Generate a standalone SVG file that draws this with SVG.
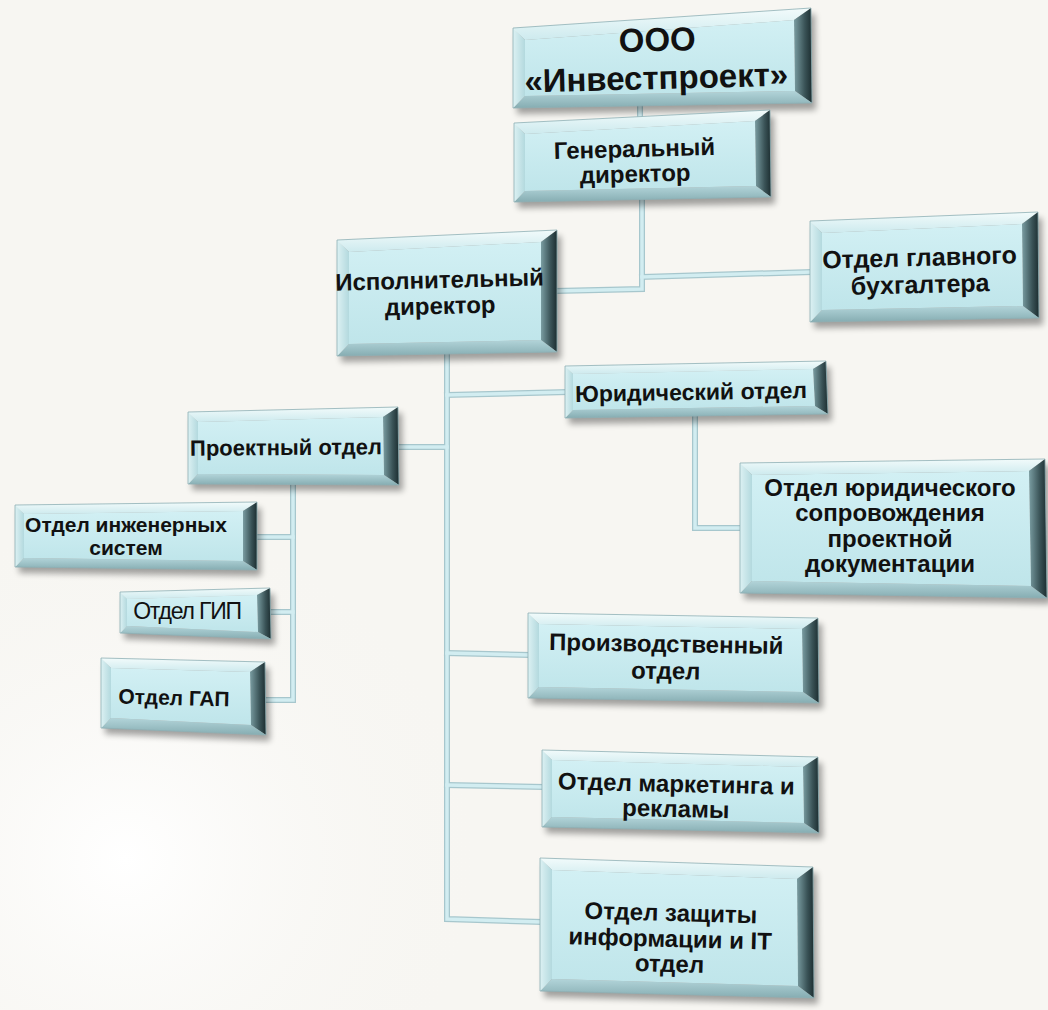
<svg xmlns="http://www.w3.org/2000/svg" width="1048" height="1010" viewBox="0 0 1048 1010">
<defs>
<linearGradient id="gTop" x1="0" y1="0" x2="0" y2="1"><stop offset="0" stop-color="#f2fbfb"/><stop offset="1" stop-color="#cdeaee"/></linearGradient>
<linearGradient id="gLeft" x1="0" y1="0" x2="1" y2="0"><stop offset="0" stop-color="#dcf1f3"/><stop offset="1" stop-color="#b3d9de"/></linearGradient>
<linearGradient id="gBot" x1="0" y1="0" x2="0" y2="1"><stop offset="0" stop-color="#b2d4d9"/><stop offset="1" stop-color="#86adb2"/></linearGradient>
<linearGradient id="gRight" x1="0" y1="0" x2="1" y2="0"><stop offset="0" stop-color="#7a9da2"/><stop offset="0.6" stop-color="#3a5357"/><stop offset="1" stop-color="#1c2d30"/></linearGradient>
<linearGradient id="gFace" x1="0" y1="0" x2="0" y2="1"><stop offset="0" stop-color="#d2f0f4"/><stop offset="1" stop-color="#bfe5ea"/></linearGradient>
<radialGradient id="gBg" cx="0.12" cy="0.85" r="0.35"><stop offset="0" stop-color="#ffffff"/><stop offset="1" stop-color="#f7f6f2" stop-opacity="0"/></radialGradient>
<filter id="sh" x="-10%" y="-20%" width="130%" height="150%"><feGaussianBlur stdDeviation="3"/></filter>
</defs>
<style>
.top{fill:url(#gTop)}
.lft{fill:url(#gLeft)}
.bot{fill:url(#gBot)}
.rgt{fill:url(#gRight)}
.face{fill:url(#gFace)}
.out{fill:none;stroke:#8eb0b5;stroke-width:0.8}
.shd{fill:#000;opacity:0.35;filter:url(#sh)}
.t{font-family:"Liberation Sans",Arial,sans-serif;font-weight:bold;fill:#111;text-anchor:middle}
.tn{font-family:"Liberation Sans",Arial,sans-serif;font-weight:normal;fill:#111;text-anchor:middle}
.cb{fill:none;stroke:#a7c7cd;stroke-width:6;stroke-linecap:square;stroke-linejoin:miter}
.cf{fill:none;stroke:#d2edf1;stroke-width:3.5;stroke-linecap:square;stroke-linejoin:miter}
</style>
<rect width="1048" height="1010" fill="#f7f6f2"/>
<rect width="1048" height="1010" fill="url(#gBg)"/>

<g id="connectors">
<g class="cb">
<path d="M640 103 V116"/>
<path d="M642 197 V289 L557 291"/>
<path d="M642 277 L810 272"/>
<path d="M447 354 V919 L540 922"/>
<path d="M447 395 L566 392"/>
<path d="M398 447 H447"/>
<path d="M447 653 L528 655"/>
<path d="M447 785 L542 787"/>
<path d="M695 414 V528 H740"/>
<path d="M293 484 V700 H266"/>
<path d="M257 537 H293"/>
<path d="M270 612 H293"/>
</g>
<g class="cf">
<path d="M640 103 V116"/>
<path d="M642 197 V289 L557 291"/>
<path d="M642 277 L810 272"/>
<path d="M447 354 V919 L540 922"/>
<path d="M447 395 L566 392"/>
<path d="M398 447 H447"/>
<path d="M447 653 L528 655"/>
<path d="M447 785 L542 787"/>
<path d="M695 414 V528 H740"/>
<path d="M293 484 V700 H266"/>
<path d="M257 537 H293"/>
<path d="M270 612 H293"/>
</g>
</g>

<g id="n-ooo">
<polygon class="shd" points="517,34 815,14 816,110 517,114"/>
<polygon class="top" points="513,28 811,8 794,20 525,40"/>
<polygon class="rgt" points="811,8 812,103 795,91 794,20"/>
<polygon class="bot" points="812,103 513,108 525,96 795,91"/>
<polygon class="lft" points="513,108 513,28 525,40 525,96"/>
<polygon class="face" points="525,40 794,20 795,91 525,96"/>
<polygon class="out" points="513,28 811,8 812,103 513,108"/>
<g transform="rotate(-1.5 658 68)">
<text class="t" x="658" y="51" font-size="33">ООО</text>
<text class="t" x="656" y="89" font-size="33">«Инвестпроект»</text>
</g>
</g>

<g id="n-gen">
<polygon class="shd" points="518,129 774,116 775,204 518,208"/>
<polygon class="top" points="514,123 770,110 755,121 525,134"/>
<polygon class="rgt" points="770,110 771,197 756,186 755,121"/>
<polygon class="bot" points="771,197 514,202 525,191 756,186"/>
<polygon class="lft" points="514,202 514,123 525,134 525,191"/>
<polygon class="face" points="525,134 755,121 756,186 525,191"/>
<polygon class="out" points="514,123 770,110 771,197 514,202"/>
<g transform="rotate(-1.5 635 168)">
<text class="t" x="635" y="157" font-size="24">Генеральный</text>
<text class="t" x="635" y="182" font-size="24">директор</text>
</g>
</g>

<g id="n-isp">
<polygon class="shd" points="341,246 561,236 561,359 341,362"/>
<polygon class="top" points="337,240 557,230 541,242 349,252"/>
<polygon class="rgt" points="557,230 557,352 541,340 541,242"/>
<polygon class="bot" points="557,352 337,356 349,344 541,340"/>
<polygon class="lft" points="337,356 337,240 349,252 349,344"/>
<polygon class="face" points="349,252 541,242 541,340 349,344"/>
<polygon class="out" points="337,240 557,230 557,352 337,356"/>
<g transform="rotate(-1.5 440 300)">
<text class="t" x="440" y="288" font-size="24">Исполнительный</text>
<text class="t" x="440" y="314" font-size="24">директор</text>
</g>
</g>

<g id="n-buh">
<polygon class="shd" points="814,227 1042,218 1043,325 814,328"/>
<polygon class="top" points="810,221 1038,212 1022,224 822,233"/>
<polygon class="rgt" points="1038,212 1039,318 1023,306 1022,224"/>
<polygon class="bot" points="1039,318 810,322 822,310 1023,306"/>
<polygon class="lft" points="810,322 810,221 822,233 822,310"/>
<polygon class="face" points="822,233 1022,224 1023,306 822,310"/>
<polygon class="out" points="810,221 1038,212 1039,318 810,322"/>
<g transform="rotate(-1.5 920 278)">
<text class="t" x="920" y="266" font-size="25">Отдел главного</text>
<text class="t" x="920" y="293" font-size="25">бухгалтера</text>
</g>
</g>

<g id="n-yur">
<polygon class="shd" points="569,372 830,367 832,421 569,424"/>
<polygon class="top" points="565,366 826,361 813,369 573,374"/>
<polygon class="rgt" points="826,361 828,414 815,406 813,369"/>
<polygon class="bot" points="828,414 565,418 573,410 815,406"/>
<polygon class="lft" points="565,418 565,366 573,374 573,410"/>
<polygon class="face" points="573,374 813,369 815,406 573,410"/>
<polygon class="out" points="565,366 826,361 828,414 565,418"/>
<g transform="rotate(-1 691 392)">
<text class="t" x="691" y="400" font-size="23">Юридический отдел</text>
</g>
</g>

<g id="n-proekt">
<polygon class="shd" points="192,418 402,413 403,491 192,490"/>
<polygon class="top" points="188,412 398,407 383,417 198,422"/>
<polygon class="rgt" points="398,407 399,485 384,475 383,417"/>
<polygon class="bot" points="399,485 188,484 198,474 384,475"/>
<polygon class="lft" points="188,484 188,412 198,422 198,474"/>
<polygon class="face" points="198,422 383,417 384,475 198,474"/>
<polygon class="out" points="188,412 398,407 399,485 188,484"/>
<g transform="rotate(-0.5 286 448)">
<text class="t" x="286" y="455" font-size="22">Проектный отдел</text>
</g>
</g>

<g id="n-inzh">
<polygon class="shd" points="19,511 261,508 261,576 19,573"/>
<polygon class="top" points="15,505 257,502 243,511 24,514"/>
<polygon class="rgt" points="257,502 257,570 243,561 243,511"/>
<polygon class="bot" points="257,570 15,567 24,558 243,561"/>
<polygon class="lft" points="15,567 15,505 24,514 24,558"/>
<polygon class="face" points="24,514 243,511 243,561 24,558"/>
<polygon class="out" points="15,505 257,502 257,570 15,567"/>
<text class="t" x="126" y="532" font-size="21">Отдел инженерных</text>
<text class="t" x="126" y="555" font-size="21">систем</text>
</g>

<g id="n-gip">
<polygon class="shd" points="124,598 274,594 275,645 124,639"/>
<polygon class="top" points="120,592 270,588 257,595 127,599"/>
<polygon class="rgt" points="270,588 271,639 258,632 257,595"/>
<polygon class="bot" points="271,639 120,633 127,626 258,632"/>
<polygon class="lft" points="120,633 120,592 127,599 127,626"/>
<polygon class="face" points="127,599 257,595 258,632 127,626"/>
<polygon class="out" points="120,592 270,588 271,639 120,633"/>
<text class="tn" x="187" y="619" font-size="23" letter-spacing="-1.2">Отдел ГИП</text>
</g>

<g id="n-gap">
<polygon class="shd" points="105,664 269,668 270,741 105,734"/>
<polygon class="top" points="101,658 265,662 250,672 111,668"/>
<polygon class="rgt" points="265,662 266,735 251,725 250,672"/>
<polygon class="bot" points="266,735 101,728 111,718 251,725"/>
<polygon class="lft" points="101,728 101,658 111,668 111,718"/>
<polygon class="face" points="111,668 250,672 251,725 111,718"/>
<polygon class="out" points="101,658 265,662 266,735 101,728"/>
<g transform="rotate(1.5 174 698)">
<text class="t" x="174" y="705" font-size="21">Отдел ГАП</text>
</g>
</g>

<g id="n-yursopr">
<polygon class="shd" points="744,469 1049,465 1051,604 744,599"/>
<polygon class="top" points="740,463 1045,459 1029,471 752,475"/>
<polygon class="rgt" points="1045,459 1047,598 1031,586 1029,471"/>
<polygon class="bot" points="1047,598 740,593 752,581 1031,586"/>
<polygon class="lft" points="740,593 740,463 752,475 752,581"/>
<polygon class="face" points="752,475 1029,471 1031,586 752,581"/>
<polygon class="out" points="740,463 1045,459 1047,598 740,593"/>
<text class="t" x="890" y="496" font-size="24">Отдел юридического</text>
<text class="t" x="890" y="521" font-size="24">сопровождения</text>
<text class="t" x="890" y="547" font-size="24">проектной</text>
<text class="t" x="890" y="572" font-size="24">документации</text>
</g>

<g id="n-proizv">
<polygon class="shd" points="532,619 822,624 823,709 532,704"/>
<polygon class="top" points="528,613 818,618 802,629 539,624"/>
<polygon class="rgt" points="818,618 819,703 803,692 802,629"/>
<polygon class="bot" points="819,703 528,698 539,687 803,692"/>
<polygon class="lft" points="528,698 528,613 539,624 539,687"/>
<polygon class="face" points="539,624 802,629 803,692 539,687"/>
<polygon class="out" points="528,613 818,618 819,703 528,698"/>
<g transform="rotate(1 666 660)">
<text class="t" x="666" y="652" font-size="24">Производственный</text>
<text class="t" x="666" y="679" font-size="24">отдел</text>
</g>
</g>

<g id="n-market">
<polygon class="shd" points="546,756 822,763 823,839 546,833"/>
<polygon class="top" points="542,750 818,757 803,767 552,760"/>
<polygon class="rgt" points="818,757 819,833 804,823 803,767"/>
<polygon class="bot" points="819,833 542,827 552,817 804,823"/>
<polygon class="lft" points="542,827 542,750 552,760 552,817"/>
<polygon class="face" points="552,760 803,767 804,823 552,817"/>
<polygon class="out" points="542,750 818,757 819,833 542,827"/>
<g transform="rotate(1.3 676 800)">
<text class="t" x="676" y="792" font-size="24">Отдел маркетинга и</text>
<text class="t" x="676" y="817" font-size="24">рекламы</text>
</g>
</g>

<g id="n-zashch">
<polygon class="shd" points="544,864 817,873 818,1004 544,997"/>
<polygon class="top" points="540,858 813,867 797,879 552,870"/>
<polygon class="rgt" points="813,867 814,998 798,986 797,879"/>
<polygon class="bot" points="814,998 540,991 552,979 798,986"/>
<polygon class="lft" points="540,991 540,858 552,870 552,979"/>
<polygon class="face" points="552,870 797,879 798,986 552,979"/>
<polygon class="out" points="540,858 813,867 814,998 540,991"/>
<g transform="rotate(1.5 670 945)">
<text class="t" x="670" y="921" font-size="24">Отдел защиты</text>
<text class="t" x="670" y="947" font-size="24">информации и IT</text>
<text class="t" x="670" y="972" font-size="24">отдел</text>
</g>
</g>
</svg>
